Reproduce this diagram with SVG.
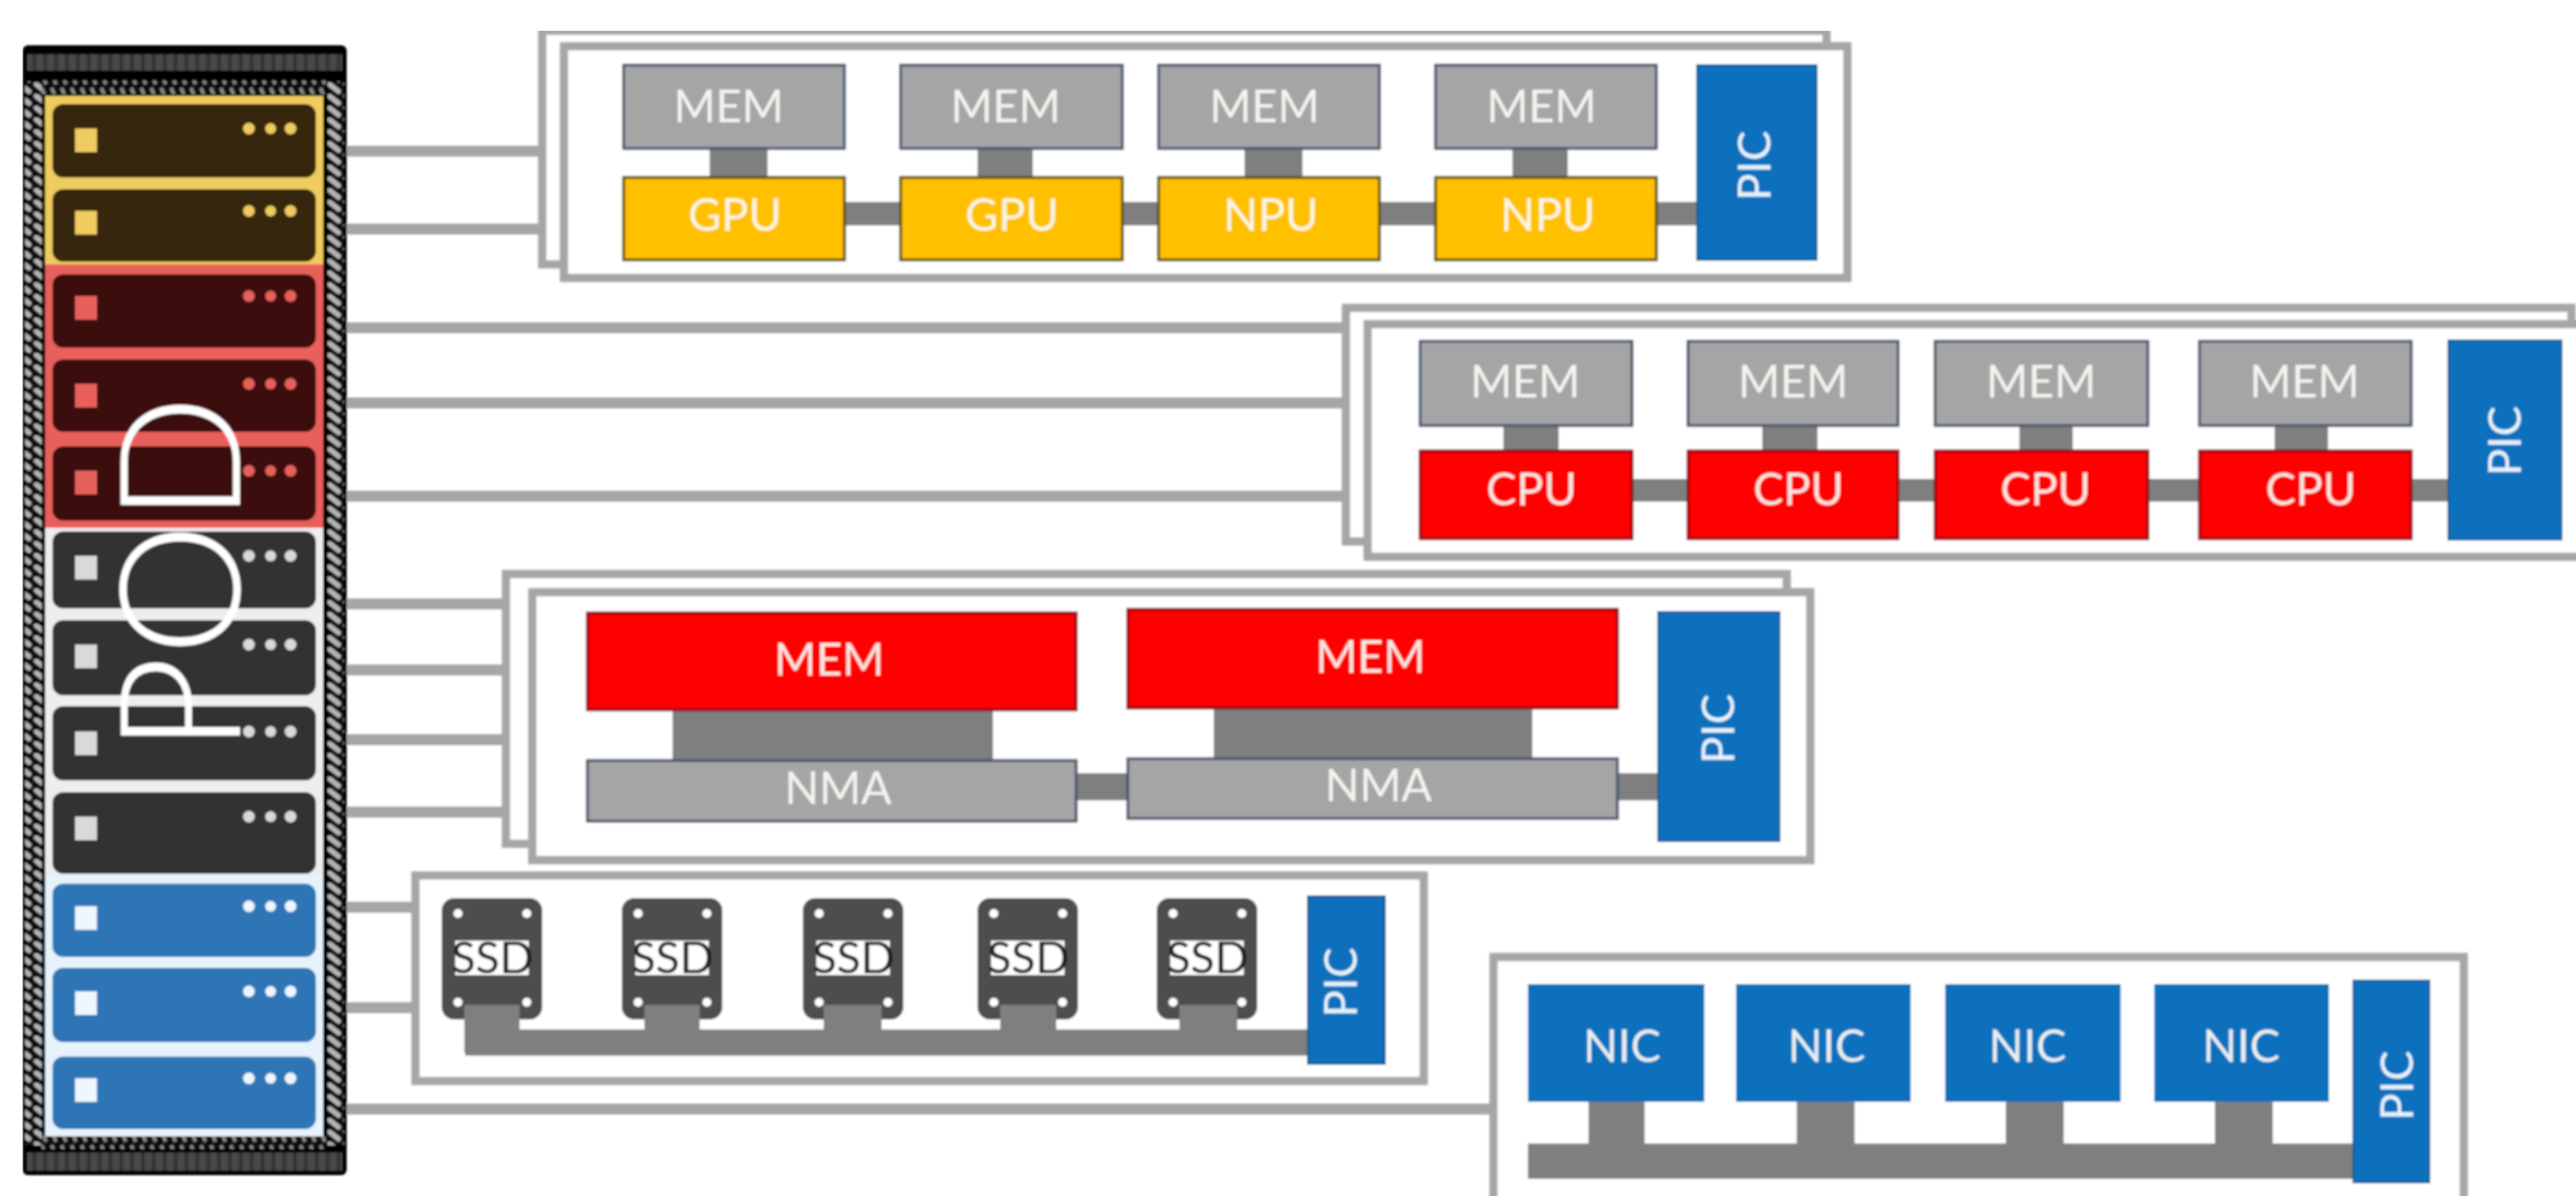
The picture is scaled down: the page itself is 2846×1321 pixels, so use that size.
<svg xmlns="http://www.w3.org/2000/svg" xmlns:xlink="http://www.w3.org/1999/xlink" width="2846" height="1321" viewBox="0 0 2846 1321">
<style>
text{font-family:Lato,"Liberation Sans",sans-serif;fill:#fbfbf6;text-anchor:middle}
.l{font-size:50px;opacity:.92}
.p{font-size:50px;fill:#e6f3fc}
.wire{stroke:#a6a6a6;stroke-width:12;fill:none}
.frame{fill:#fff;stroke:#a6a6a6;stroke-width:9}
.link{fill:#7f7f7f}
.mem{fill:#a5a5a5;stroke:#44546a;stroke-width:3}
.gpu{fill:#ffc000;stroke:#5f4d10;stroke-width:3}
.cpu{fill:#f00;stroke:#8a0a14;stroke-width:3}
.pic{fill:#0f6fbd;stroke:#0d568f;stroke-width:2}
.nic{fill:#0f6fbd}
.ssd{fill:#4d4d4d}
.hole{fill:#fff}
.tag{fill:#fff}
.ssdt{font-size:49px;fill:#1c1c1c}
.y rect{fill:#35260f}.y use{fill:#efcb60}
.r rect{fill:#3a1110}.r use{fill:#e8605c}
.g rect{fill:#333}.g use{fill:#d9d9d9}
.b rect{fill:#2e75b6}.b use{fill:#eef7fd}
</style>
<defs>
<filter id="soft" x="0" y="0" width="100%" height="100%"><feGaussianBlur stdDeviation="0.8"/></filter>
<pattern id="hatch" width="18" height="13" patternUnits="userSpaceOnUse"><rect width="18" height="13" fill="#0c0c0c"/><path d="M4 2L14 10" stroke="#b5b5b5" stroke-width="5.5" stroke-linecap="round"/></pattern>
<pattern id="teeth" width="11" height="16" patternUnits="userSpaceOnUse"><rect width="11" height="16" fill="#0a0a0a"/><path d="M2 1L7 13" stroke="#8a8a8a" stroke-width="4"/></pattern>
<pattern id="bar" width="12" height="20" patternUnits="userSpaceOnUse"><rect width="12" height="20" fill="#4a4a4a"/><path d="M2 0V20" stroke="#333" stroke-width="4"/></pattern>
<g id="unit"><path d="M25 27h24v26h-24z"/><circle cx="217" cy="27" r="6.5"/><circle cx="241" cy="27" r="6"/><circle cx="263" cy="27" r="6.5"/></g>
<g id="ssd-body"><rect class="ssd" width="111" height="134" rx="14"/><circle class="hole" cx="18" cy="17" r="5"/><circle class="hole" cx="94" cy="17" r="5"/><circle class="hole" cx="18" cy="115" r="5"/><circle class="hole" cx="94" cy="115" r="5"/><rect class="tag" x="15" y="47" width="81" height="38"/></g>
</defs>
<rect width="2846" height="1321" fill="#fff"/>
<g filter="url(#soft)">
<g id="connectors">
<path class="wire" d="M380 167H600M380 253H600M380 362H1488M380 445H1488M380 548H1488M380 667H556M380 740H556M380 817H556M380 897H556M380 1002H456M380 1113H456M380 1225H1651"/>
</g>

<g id="rack">
<rect x="25" y="50" width="358" height="1248" rx="6" fill="#050505"/>
<rect x="30" y="60" width="348" height="18" fill="url(#bar)"/>
<rect x="30" y="1273" width="348" height="20" fill="url(#bar)"/>
<rect x="46" y="89" width="314" height="15" fill="url(#teeth)"/>
<rect x="46" y="1255" width="314" height="14" fill="url(#teeth)"/>
<rect x="28" y="90" width="18" height="1175" fill="url(#hatch)"/>
<rect x="362" y="90" width="18" height="1175" fill="url(#hatch)"/>
<rect x="50" y="106" width="307" height="186" fill="#efcb60"/>
<rect x="50" y="292" width="307" height="291" fill="#e8605c"/>
<rect x="50" y="583" width="307" height="385" fill="#eeeeee"/>
<rect x="50" y="968" width="307" height="287" fill="#e6f3fc"/>
</g>
<g id="server-1" class="y" transform="translate(58 115)"><rect width="291" height="81" rx="12"/><use xlink:href="#unit" href="#unit"/></g>
<g id="server-2" class="y" transform="translate(58 209)"><rect width="291" height="80" rx="12"/><use xlink:href="#unit" href="#unit" y="-3"/></g>
<g id="server-3" class="r" transform="translate(58 303)"><rect width="291" height="81" rx="12"/><use xlink:href="#unit" href="#unit" y="-3"/></g>
<g id="server-4" class="r" transform="translate(58 397)"><rect width="291" height="80" rx="12"/><use xlink:href="#unit" href="#unit"/></g>
<g id="server-5" class="r" transform="translate(58 493)"><rect width="291" height="82" rx="12"/><use xlink:href="#unit" href="#unit"/></g>
<g id="server-6" class="g" transform="translate(58 587)"><rect width="291" height="85" rx="12"/><use xlink:href="#unit" href="#unit"/></g>
<g id="server-7" class="g" transform="translate(58 685)"><rect width="291" height="83" rx="12"/><use xlink:href="#unit" href="#unit"/></g>
<g id="server-8" class="g" transform="translate(58 780)"><rect width="291" height="82" rx="12"/><use xlink:href="#unit" href="#unit" y="1"/></g>
<g id="server-9" class="g" transform="translate(58 875)"><rect width="291" height="90" rx="12"/><use xlink:href="#unit" href="#unit"/></g>
<g id="server-10" class="b" transform="translate(58 976)"><rect width="291" height="81" rx="12"/><use xlink:href="#unit" href="#unit" y="-2"/></g>
<g id="server-11" class="b" transform="translate(58 1069)"><rect width="291" height="82" rx="12"/><use xlink:href="#unit" href="#unit" y="-1"/></g>
<g id="server-12" class="b" transform="translate(58 1167)"><rect width="291" height="80" rx="12"/><use xlink:href="#unit" href="#unit" y="-3"/></g>
<g id="pod-label"><text transform="translate(265 634) rotate(-90)" style="font-size:186px;font-weight:300;fill:#fff">POD</text></g>

<g id="gpu-npu-blade">
<rect class="frame" x="599" y="34" width="1419" height="258"/>
<rect class="frame" x="623" y="51" width="1418" height="256"/>
<rect class="link" x="933" y="223" width="942" height="26"/>
<rect class="link" x="784" y="164" width="64" height="32"/><rect class="link" x="1080" y="164" width="61" height="32"/><rect class="link" x="1375" y="164" width="64" height="32"/><rect class="link" x="1671" y="164" width="61" height="32"/>
<rect class="mem" x="689" y="72" width="244" height="92"/><rect class="mem" x="995" y="72" width="245" height="92"/><rect class="mem" x="1280" y="72" width="244" height="92"/><rect class="mem" x="1586" y="72" width="244" height="92"/>
<rect class="gpu" x="689" y="196" width="244" height="91"/><rect class="gpu" x="995" y="196" width="245" height="91"/><rect class="gpu" x="1280" y="196" width="244" height="91"/><rect class="gpu" x="1586" y="196" width="244" height="91"/>
<rect class="pic" x="1875" y="72" width="132" height="215"/>
<text class="l" x="805" y="135">MEM</text><text class="l" x="1111" y="135">MEM</text><text class="l" x="1397" y="135">MEM</text><text class="l" x="1703" y="135">MEM</text>
<text class="l" x="812" y="255">GPU</text><text class="l" x="1118" y="255">GPU</text><text class="l" x="1404" y="255">NPU</text><text class="l" x="1710" y="255">NPU</text>
<text class="p" transform="translate(1956 183) rotate(-90)">PIC</text>
</g>

<g id="cpu-blade">
<rect class="frame" x="1487" y="340" width="1354" height="258"/>
<rect class="frame" x="1511" y="358" width="1345" height="257"/>
<rect class="link" x="1803" y="529" width="902" height="25"/>
<rect class="link" x="1661" y="470" width="61" height="28"/><rect class="link" x="1947" y="470" width="61" height="28"/><rect class="link" x="2231" y="470" width="59" height="28"/><rect class="link" x="2513" y="470" width="59" height="28"/>
<rect class="mem" x="1569" y="377" width="234" height="93"/><rect class="mem" x="1865" y="377" width="232" height="93"/><rect class="mem" x="2138" y="377" width="235" height="93"/><rect class="mem" x="2430" y="377" width="234" height="93"/>
<rect class="cpu" x="1569" y="498" width="234" height="97"/><rect class="cpu" x="1865" y="498" width="232" height="97"/><rect class="cpu" x="2138" y="498" width="235" height="97"/><rect class="cpu" x="2430" y="498" width="234" height="97"/>
<rect class="pic" x="2705" y="376" width="125" height="220"/>
<text class="l" x="1685" y="439">MEM</text><text class="l" x="1981" y="439">MEM</text><text class="l" x="2255" y="439">MEM</text><text class="l" x="2546" y="439">MEM</text>
<text class="l" x="1692" y="558">CPU</text><text class="l" x="1987" y="558">CPU</text><text class="l" x="2260" y="558">CPU</text><text class="l" x="2553" y="558">CPU</text>
<text class="p" transform="translate(2785 487) rotate(-90)">PIC</text>
</g>

<g id="nma-blade">
<rect class="frame" x="559" y="634" width="1415" height="298"/>
<rect class="frame" x="588" y="654" width="1412" height="296"/>
<rect class="link" x="1189" y="854" width="643" height="30"/>
<rect class="link" x="743" y="784" width="354" height="56"/><rect class="link" x="1341" y="782" width="352" height="56"/>
<rect class="cpu" x="649" y="677" width="540" height="107"/><rect class="cpu" x="1246" y="673" width="541" height="109"/>
<rect class="mem" x="649" y="840" width="540" height="67"/><rect class="mem" x="1246" y="838" width="541" height="66"/>
<rect class="pic" x="1832" y="676" width="134" height="253"/>
<text class="l" x="916" y="746">MEM</text><text class="l" x="1514" y="743">MEM</text>
<text class="l" x="926" y="888">NMA</text><text class="l" x="1523" y="885">NMA</text>
<text class="p" transform="translate(1916 805) rotate(-90)">PIC</text>
</g>

<g id="ssd-blade">
<rect class="frame" x="459" y="967" width="1114" height="227"/>
<rect class="link" x="514" y="1137" width="931" height="29"/>
<g id="ssd-1"><use xlink:href="#ssd-body" href="#ssd-body" x="488" y="992"/><text class="ssdt" x="544" y="1075">SSD</text></g>
<g id="ssd-2"><use xlink:href="#ssd-body" href="#ssd-body" x="687" y="992"/><text class="ssdt" x="743" y="1075">SSD</text></g>
<g id="ssd-3"><use xlink:href="#ssd-body" href="#ssd-body" x="887" y="992"/><text class="ssdt" x="943" y="1075">SSD</text></g>
<g id="ssd-4"><use xlink:href="#ssd-body" href="#ssd-body" x="1080" y="992"/><text class="ssdt" x="1136" y="1075">SSD</text></g>
<g id="ssd-5"><use xlink:href="#ssd-body" href="#ssd-body" x="1278" y="992"/><text class="ssdt" x="1334" y="1075">SSD</text></g>
<rect class="link" x="513" y="1110" width="61" height="53"/><rect class="link" x="712" y="1110" width="61" height="56"/><rect class="link" x="910" y="1110" width="64" height="56"/><rect class="link" x="1105" y="1110" width="62" height="56"/><rect class="link" x="1303" y="1110" width="64" height="56"/>
<rect class="pic" x="1445" y="990" width="85" height="185"/>
<text class="p" transform="translate(1499 1085) rotate(-90)">PIC</text>
</g>

<g id="nic-blade">
<rect class="frame" x="1650" y="1057" width="1072" height="300"/>
<rect class="link" x="1688" y="1263" width="912" height="39"/>
<rect class="link" x="1755" y="1217" width="62" height="46"/><rect class="link" x="1985" y="1217" width="64" height="46"/><rect class="link" x="2216" y="1217" width="64" height="46"/><rect class="link" x="2447" y="1217" width="64" height="46"/>
<rect class="nic" x="1688" y="1087" width="195" height="130"/><rect class="nic" x="1918" y="1087" width="193" height="130"/><rect class="nic" x="2149" y="1087" width="194" height="130"/><rect class="nic" x="2380" y="1087" width="193" height="130"/>
<rect class="pic" x="2600" y="1083" width="84" height="223"/>
<text class="l" x="1792" y="1173">NIC</text><text class="l" x="2018" y="1173">NIC</text><text class="l" x="2240" y="1173">NIC</text><text class="l" x="2476" y="1173">NIC</text>
<text class="p" transform="translate(2666 1199) rotate(-90)">PIC</text>
</g>
</g>
</svg>
